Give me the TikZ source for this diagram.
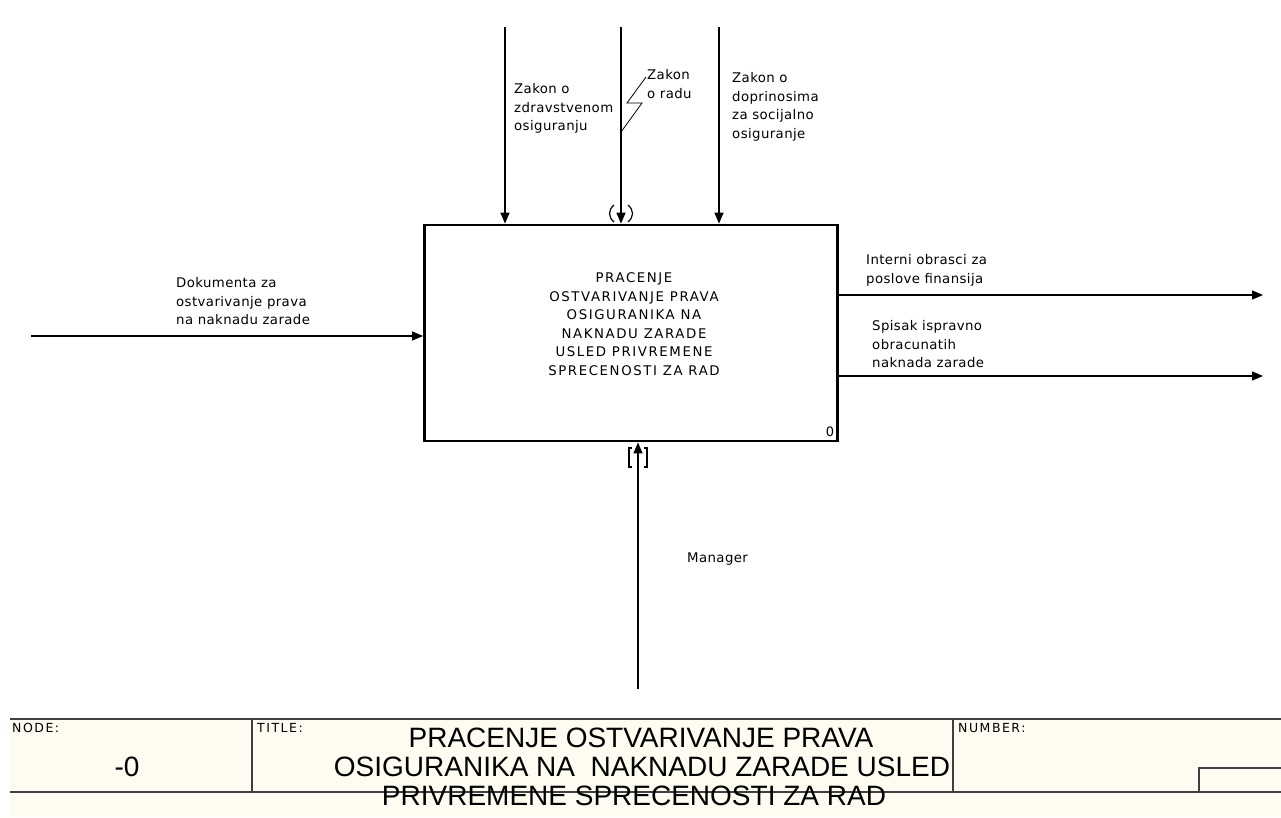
\documentclass[tikz,border=0pt]{standalone}
\usepackage{fontspec}
\setmainfont{Liberation Sans}
\newfontfamily\lblfont[LetterSpace=3]{DejaVu Sans}
\newfontfamily\capfont[LetterSpace=12]{DejaVu Sans}
\usetikzlibrary{arrows.meta}
\definecolor{footbg}{HTML}{FEFCF0}
\definecolor{footline}{HTML}{404040}

\begin{document}
\begin{tikzpicture}[x=1pt,y=-1pt,
  flow/.style={line width=1.3pt,-{Triangle[length=11pt,width=9pt]}},
  lbl/.style={inner sep=0pt,anchor=north west,align=left,
    font=\lblfont\fontsize{13.3}{18.8}\selectfont},
  frame/.style={line width=1.4pt,draw=footline},
  small/.style={inner sep=0pt,anchor=west,font=\capfont\fontsize{12.5}{14}\selectfont},
  big/.style={inner sep=0pt,anchor=center,font=\fontsize{28}{29}\selectfont},
  tunnel/.style={line width=1.2pt}]
\useasboundingbox (0,0) rectangle (1281,817);

% activity box
\node[draw,line width=2.8pt,minimum width=413pt,minimum height=216pt,inner sep=0pt] (act) at (631,333) {};
\node[inner sep=0pt,align=center,font=\capfont\fontsize{13.3}{18.5}\selectfont] (acttxt) at (634,324)
  {PRACENJE\\OSTVARIVANJE PRAVA\\OSIGURANIKA NA\\NAKNADU ZARADE\\USLED PRIVREMENE\\SPRECENOSTI ZA RAD};
\node[inner sep=0pt,font=\lblfont\fontsize{13}{14}\selectfont] (actno) at (830,432) {0};

% controls
\coordinate (c1) at (505,27);
\coordinate (c2) at (621,27);
\coordinate (c3) at (719,27);
\draw[flow] (c1) -- (c1 |- act.north);
\draw[flow] (c2) -- (c2 |- act.north);
\draw[flow] (c3) -- (c3 |- act.north);
\node[lbl] (l1) at (514,83) {Zakon o\\zdravstvenom\\osiguranju};
\node[lbl] (l2) at (647,69) {Zakon\\o radu};
\node[lbl] (l3) at (732,72) {Zakon o\\doprinosima\\za socijalno\\osiguranje};
\draw[line width=0.8pt] (646,77) -- (627,103) -- (642,103) -- (621,132);
% tunnel parentheses
\draw[tunnel] (614,205) .. controls (608,210) and (608,217) .. (614,222);
\draw[tunnel] (628,205) .. controls (634,210) and (634,217) .. (628,222);

% input
\coordinate (in1) at (31,336);
\draw[flow] (in1) -- (in1 -| act.west);
\node[lbl] (l4) at (176,277) {Dokumenta za\\ostvarivanje prava\\na naknadu zarade};

% outputs
\coordinate (o1) at (1263,295);
\coordinate (o2) at (1263,376);
\draw[flow] (o1 -| act.east) -- (o1);
\draw[flow] (o2 -| act.east) -- (o2);
\node[lbl] (l5) at (866,254) {Interni obrasci za\\poslove finansija};
\node[lbl] (l6) at (872,320) {Spisak ispravno\\obracunatih\\naknada zarade};

% mechanism
\coordinate (m1) at (638,689);
\draw[flow] (m1) -- (m1 |- act.south);
\node[lbl] (l7) at (687,553) {Manager};
% tunnel brackets
\draw[tunnel] (632,448) -- (629,448) -- (629,467) -- (632,467);
\draw[tunnel] (644,448) -- (647,448) -- (647,467) -- (644,467);

% title block
\fill[footbg] (10,719) rectangle (1281,817);
\draw[frame] (10,719) -- (1281,719);
\draw[frame] (10,792) -- (1281,792);
\draw[frame] (252,719) -- (252,792);
\draw[frame] (953,719) -- (953,792);
\draw[frame] (1199,792) -- (1199,768) -- (1281,768);
\node[small] (fnode) at (12,728) {NODE:};
\node[small] (ftitle) at (257,728) {TITLE:};
\node[small] (fnum) at (958,728) {NUMBER:};
\node[big] (fno) at (127,767) {-0};
\node[big] (t1) at (641,738) {PRACENJE OSTVARIVANJE PRAVA};
\node[big] (t2) at (642,767) {OSIGURANIKA NA\ \ NAKNADU ZARADE USLED};
\node[big] (t3) at (634,796) {PRIVREMENE SPRECENOSTI ZA RAD};
\end{tikzpicture}
\end{document}
